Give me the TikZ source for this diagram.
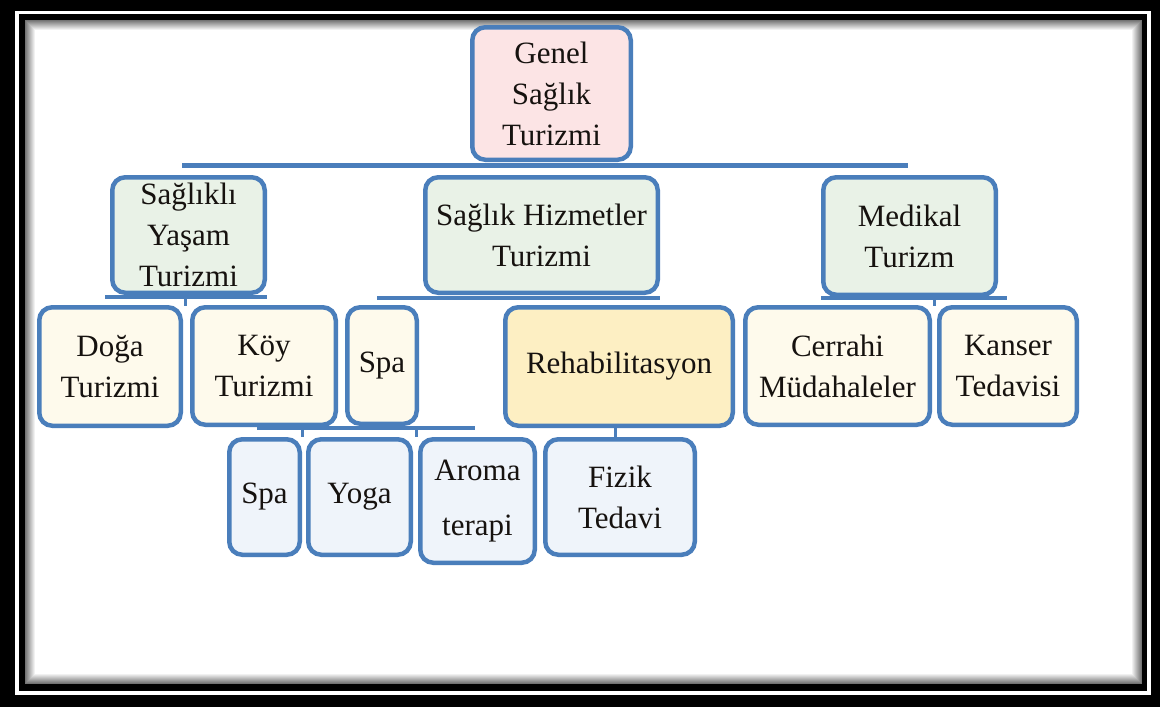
\documentclass[tikz,border=0pt]{standalone}
\usepackage{fontspec}
\setmainfont{Liberation Serif}
\definecolor{bblue}{HTML}{4A7EBB}
\definecolor{txt}{HTML}{16120F}
\definecolor{fpink}{HTML}{FCE4E5}
\definecolor{fgreen}{HTML}{E9F2E7}
\definecolor{fcream}{HTML}{FEFAEC}
\definecolor{fyellow}{HTML}{FDEFC3}
\definecolor{fblue}{HTML}{EFF4FA}
\begin{document}
\begin{tikzpicture}[x=1pt,y=-1pt,
  box/.style={draw=bblue, line width=4.5pt, rounded corners=13pt, inner sep=0pt, align=center, text=txt, font=\fontsize{31}{41}\selectfont},
  conn/.style={draw=bblue, line width=4pt}]
\useasboundingbox (0,0) rectangle (1160,707);
% frame
\fill[black] (0,0) rectangle (1160,707);
\fill[white] (15,11) rectangle (1151,695);
\fill[black] (19,14) rectangle (1147,691);
\fill[white] (25,20) rectangle (1142,684);
\foreach \i in {0,...,9} {
  \pgfmathsetmacro\g{max(0,55-5.5*\i)}
  \draw[black!\g, line width=1.05pt] (25.5+\i,20.5+\i) rectangle (1141.5-\i,683.5-\i);
}
% connector coordinates
\coordinate (l1a) at (182,165);  \coordinate (l1b) at (908,165);
\coordinate (l2aa) at (105,297); \coordinate (l2ab) at (267,297);
\coordinate (l2ba) at (377,298); \coordinate (l2bb) at (660,298);
\coordinate (l2ca) at (821,298); \coordinate (l2cb) at (1007,298);
\coordinate (l3a) at (257,428);  \coordinate (l3b) at (475,428);
\coordinate (t1a) at (185,297);  \coordinate (t1b) at (185,306);
\coordinate (t2a) at (934,298);  \coordinate (t2b) at (934,306);
\coordinate (t3a) at (302,428);  \coordinate (t3b) at (302,437);
\coordinate (t4a) at (416,428);  \coordinate (t4b) at (416,437);
\coordinate (t5a) at (615,426);  \coordinate (t5b) at (615,437);
\draw[conn, line width=5pt] (l1a) -- (l1b);
\draw[conn] (l2aa) -- (l2ab);
\draw[conn] (l2ba) -- (l2bb);
\draw[conn] (l2ca) -- (l2cb);
\draw[conn, line width=3.5pt] (l3a) -- (l3b);
\draw[conn, line width=3pt] (t1a) -- (t1b);
\draw[conn, line width=3pt] (t2a) -- (t2b);
\draw[conn, line width=3pt] (t3a) -- (t3b);
\draw[conn, line width=3pt] (t4a) -- (t4b);
\draw[conn, line width=3pt] (t5a) -- (t5b);
% nodes
\node[box, fill=fpink, minimum width=158.5pt, minimum height=132.5pt] (genel) at (551.5,93.5) {Genel\\Sağlık\\Turizmi};
\node[box, fill=fgreen, minimum width=152.5pt, minimum height=115.5pt] (sy) at (188.5,235) {Sağlıklı\\Yaşam\\Turizmi};
\node[box, fill=fgreen, minimum width=232.5pt, minimum height=115.5pt] (sh) at (541.5,235) {Sağlık Hizmetler\\Turizmi};
\node[box, fill=fgreen, minimum width=172.5pt, minimum height=117.5pt] (mt) at (909.5,236) {Medikal\\Turizm};
\node[box, fill=fcream, minimum width=141.5pt, minimum height=118.5pt] (doga) at (110,366.5) {Doğa\\Turizmi};
\node[box, fill=fcream, minimum width=143.5pt, minimum height=117.5pt] (koy) at (264,366) {Köy\\Turizmi};
\node[box, fill=fcream, minimum width=69.5pt, minimum height=116.5pt] (spaa) at (382,365.5) {Spa};
\node[box, fill=fyellow, minimum width=227.5pt, minimum height=118.5pt] (rehab) at (619,366.5) {Rehabilitasyon};
\node[box, fill=fcream, minimum width=184.5pt, minimum height=117.5pt] (cer) at (837.5,366) {Cerrahi\\Müdahaleler};
\node[box, fill=fcream, minimum width=137.5pt, minimum height=117.5pt] (kan) at (1008,366) {Kanser\\Tedavisi};
\node[box, fill=fblue, minimum width=70.5pt, minimum height=115.5pt] (spab) at (264.5,497) {Spa};
\node[box, fill=fblue, minimum width=102.5pt, minimum height=115.5pt] (yoga) at (359.5,497) {Yoga};
\node[box, fill=fblue, minimum width=114.5pt, minimum height=123.5pt] (aroma) at (477.5,501) {Aroma\\[14pt]terapi};
\node[box, fill=fblue, minimum width=149.5pt, minimum height=115.5pt] (fizik) at (620,497) {Fizik\\Tedavi};
\end{tikzpicture}
\end{document}
